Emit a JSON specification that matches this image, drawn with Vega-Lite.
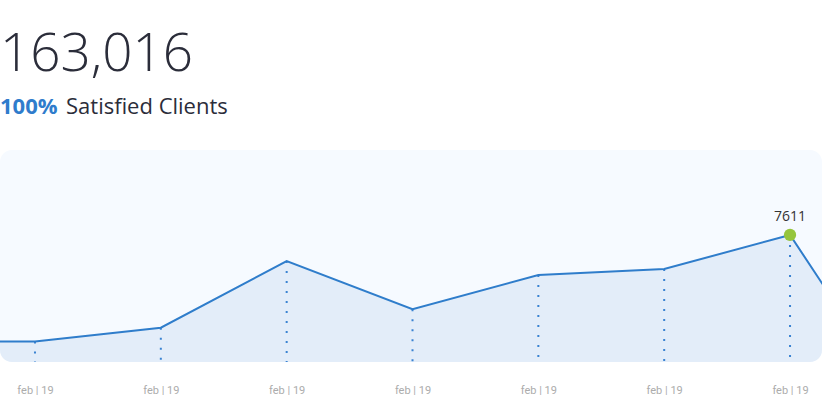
{
  "$schema": "https://vega.github.io/schema/vega-lite/v6.json",
  "padding": {"top": 29, "left": 0, "right": 0, "bottom": 0},
  "background": "white",
  "config": {
    "view": {"fill": "#f6faff", "stroke": null, "cornerRadius": 12},
    "font": "Open Sans"
  },
  "title": {
    "text": "Satisfied Clients",
    "anchor": "start",
    "frame": "group",
    "fontSize": 22,
    "fontWeight": "normal",
    "color": "#2b2d3a",
    "dx": 66,
    "dy": 90,
    "offset": 0
  },
  "vconcat": [
    {
      "width": 822,
      "height": 212,
      "title": {
        "text": "163,016",
        "subtitle": "100%",
        "anchor": "start",
        "frame": "group",
        "fontSize": 53,
        "fontWeight": 300,
        "color": "#2b2d3a",
        "subtitleFontSize": 22,
        "subtitleFontWeight": "bold",
        "subtitleColor": "#2f7ccc",
        "subtitlePadding": 15,
        "offset": 32
      },
      "data": {
        "values": [
          {"i": -1, "v": 1230},
          {"i": 0, "v": 1230},
          {"i": 1, "v": 2055},
          {"i": 2, "v": 6050},
          {"i": 3, "v": 3160},
          {"i": 4, "v": 5210},
          {"i": 5, "v": 5570},
          {"i": 6, "v": 7611},
          {"i": 7, "v": -3770}
        ]
      },
      "encoding": {
        "x": {
          "field": "i",
          "type": "quantitative",
          "scale": {"domain": [-0.278, 6.254], "nice": false, "zero": false},
          "axis": {
            "values": [0, 1, 2, 3, 4, 5, 6],
            "labelExpr": "'feb | 19'",
            "domain": false,
            "ticks": false,
            "grid": false,
            "labelColor": "#acacac",
            "labelFontSize": 11,
            "labelFont": "Roboto",
            "labelPadding": 22,
            "labelDx": -3,
            "title": null
          }
        },
        "y": {
          "field": "v",
          "type": "quantitative",
          "scale": {"domain": [0, 12700], "nice": false},
          "axis": null
        }
      },
      "layer": [
        {"mark": {"type": "area", "color": "#e3edf9", "clip": true}},
        {
          "transform": [{"filter": "datum.i >= 0 && datum.i <= 6"}],
          "mark": {"type": "rule", "color": "#3a83d2", "strokeDash": [2, 8], "strokeWidth": 2},
          "encoding": {"y2": {"datum": 0}}
        },
        {"mark": {"type": "line", "color": "#2f7dcb", "strokeWidth": 2, "clip": true}},
        {
          "transform": [{"filter": "datum.i == 6"}],
          "mark": {"type": "circle", "size": 150, "color": "#95c53c", "opacity": 1}
        },
        {
          "transform": [{"filter": "datum.i == 6"}],
          "mark": {"type": "text", "dy": -18, "fontSize": 14, "color": "#333333"},
          "encoding": {"text": {"field": "v", "type": "quantitative", "format": "d"}}
        }
      ]
    }
  ]
}
